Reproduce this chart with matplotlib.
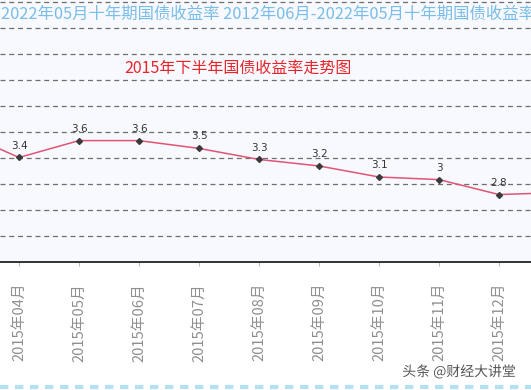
import matplotlib
matplotlib.use("Agg")
import matplotlib.pyplot as plt
import numpy as np
from matplotlib.lines import Line2D
import matplotlib.patheffects as pe

plt.rcParams['font.family'] = ['Noto Sans CJK SC', 'DejaVu Sans']

months = ["2015年03月", "2015年04月", "2015年05月", "2015年06月", "2015年07月",
          "2015年08月", "2015年09月", "2015年10月", "2015年11月", "2015年12月", "2016年01月"]
yields = [3.78, 3.37, 3.63, 3.63, 3.51, 3.34, 3.24, 3.07, 3.03, 2.80, 2.83]
title_top = "2022年05月十年期国债收益率 2012年06月-2022年05月十年期国债收益率 2012年06月"
title_main = "2015年下半年国债收益率走势图"
watermark = "头条 @财经大讲堂"

W, H = 531, 390
fig = plt.figure(figsize=(W / 100, H / 100), dpi=100)
fig.patch.set_facecolor("white")
ax_bottom_px = 262
ax = fig.add_axes([0, 1 - ax_bottom_px / H, 1, ax_bottom_px / H])
ax.set_facecolor("#f7f9fe")

x = np.arange(len(months)) - 1  # Apr 2015 at 0

k = 65.0  # px per unit y
y_ref, y_ref_px = 3.05, 178.3
ymin = y_ref - (ax_bottom_px - y_ref_px) / k
ymax = y_ref + y_ref_px / k

# grid lines every 26 px
grid_vals = [ymin + 26 * i / k for i in range(1, 11)]
for gv in grid_vals:
    ax.axhline(gv, color="#6e6e6e", lw=0.9, ls=(0, (4, 3)), zorder=1)

ax.plot(x, yields, color="#e05572", lw=1.1, zorder=3)
ax.plot(x, yields, ls="none", marker="D", ms=3.0, color="#3a3a3a", zorder=4)
for xi, yi in zip(x, yields):
    lab = f"{round(yi, 1):g}"
    ax.annotate(lab, (xi, yi), xytext=(0, 5), textcoords="offset points",
                ha="center", va="bottom", fontsize=7.5, color="#333333",
                family=["DejaVu Sans"], zorder=5, annotation_clip=True)

ax.set_yticks([])
vis = slice(1, 10)
ax.set_xticks(x[vis])
ax.set_xticklabels(months[vis], rotation=90, fontsize=10.6, color="#8f8f8f")
ax.tick_params(axis="x", length=3, color="#bbbbbb", pad=12)
for lbl in ax.get_xticklabels():
    lbl.set_va("top")

px_per_unit_x = 60.0
x0_px = 19.0
ax.set_xlim(-x0_px / px_per_unit_x, (W - x0_px) / px_per_unit_x)
ax.set_ylim(ymin, ymax)

for s in ["top", "left", "right"]:
    ax.spines[s].set_visible(False)
ax.spines["bottom"].set_color("#111111")
ax.spines["bottom"].set_linewidth(1.2)

# titles
fig.text(1 / W, 1 - 14 / H, title_top, ha="left", va="center", fontsize=11.8,
         color="#79bde8")
fig.text(238 / W, 1 - 68 / H, title_main, ha="center", va="center", fontsize=11.5,
         color="#e8262a")

# watermark
fig.text(459 / W, 1 - 372 / H, watermark, ha="center", va="center", fontsize=10,
         color="#555555",
         path_effects=[pe.withStroke(linewidth=2, foreground="white")])

# bottom dotted line
fig.add_artist(Line2D([0, 1], [1 - 387 / H] * 2, transform=fig.transFigure,
                      color="#b3e0f4", lw=3, ls=(0, (2.0, 1.6))))

fig.savefig("out.png", dpi=100)
